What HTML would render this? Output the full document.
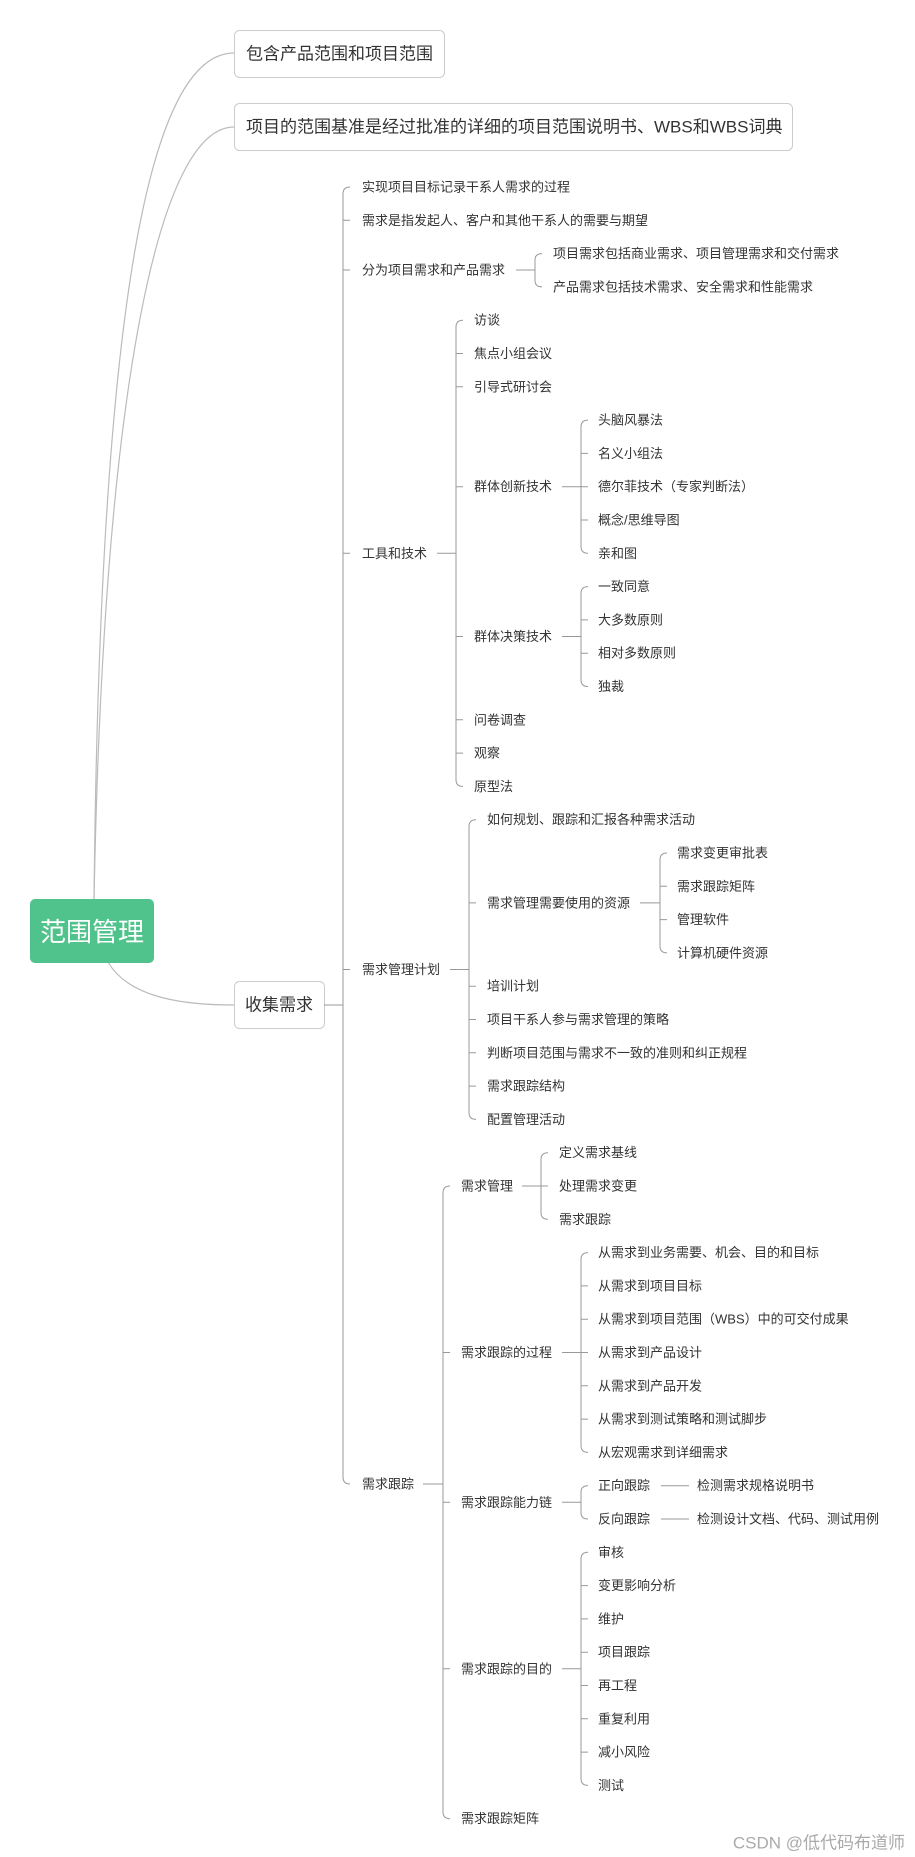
<!DOCTYPE html>
<html><head><meta charset="utf-8"><style>
html,body{margin:0;padding:0;background:#fff;}
svg{display:block;}
text{font-family:"Liberation Sans","Noto Sans CJK SC",sans-serif;fill:#333;font-size:13px;dominant-baseline:central;}
.l{fill:none;stroke:#999;stroke-width:1;}
.c{fill:none;stroke:#bbb;stroke-width:1.2;}
.b{font-size:17px;fill:#333;}
</style></head><body>
<svg width="915" height="1857" viewBox="0 0 915 1857" xmlns="http://www.w3.org/2000/svg">
<!-- root curves -->
<path class="c" d="M94 900 C100 300,150 53,234 53"/>
<path class="c" d="M94 900 C104 380,160 127,234 127"/>
<path class="c" d="M108 962 C130 1000,190 1005,234 1005"/>
<!-- boxes -->
<rect x="234.5" y="30.5" width="210" height="47" rx="5" fill="#fff" stroke="#ccc"/>
<text class="b" x="246" y="54">包含产品范围和项目范围</text>
<rect x="234.5" y="103.5" width="558" height="47" rx="5" fill="#fff" stroke="#ccc"/>
<text class="b" x="246" y="127">项目的范围基准是经过批准的详细的项目范围说明书、WBS和WBS词典</text>
<rect x="30" y="899" width="124" height="64" rx="5" fill="#4fc38b"/>
<text x="92" y="932" style="font-size:26px;fill:#fff;text-anchor:middle">范围管理</text>
<rect x="234.5" y="981.5" width="90" height="47" rx="5" fill="#fff" stroke="#ccc"/>
<text class="b" x="245" y="1005">收集需求</text>

<!-- G1 -->
<path class="l" d="M324 1005 L343 1005"/>
<path class="l" d="M350 187 Q343 187 343 194 L343 1477 Q343 1484 350 1484 M343 220.3 L350 220.3 M343 270 L350 270 M343 553.3 L350 553.3 M343 969.5 L350 969.5"/>
<text x="362" y="187">实现项目目标记录干系人需求的过程</text>
<text x="362" y="220.3">需求是指发起人、客户和其他干系人的需要与期望</text>
<text x="362" y="270">分为项目需求和产品需求</text>
<text x="362" y="553.3">工具和技术</text>
<text x="362" y="969.5">需求管理计划</text>
<text x="362" y="1484">需求跟踪</text>

<!-- G2 -->
<path class="l" d="M516 270 L535 270 M542 253.6 Q535 253.6 535 260 L535 280.5 Q535 286.9 542 286.9"/>
<text x="553" y="253.6">项目需求包括商业需求、项目管理需求和交付需求</text>
<text x="553" y="286.9">产品需求包括技术需求、安全需求和性能需求</text>

<!-- G3 -->
<path class="l" d="M437 553.3 L456 553.3 M463 320.2 Q456 320.2 456 327 L456 779.6 Q456 786.4 463 786.4 M456 353.5 L463 353.5 M456 386.8 L463 386.8 M456 486.7 L463 486.7 M456 636.5 L463 636.5 M456 719.8 L463 719.8 M456 753.1 L463 753.1"/>
<text x="474" y="320.2">访谈</text>
<text x="474" y="353.5">焦点小组会议</text>
<text x="474" y="386.8">引导式研讨会</text>
<text x="474" y="486.7">群体创新技术</text>
<text x="474" y="636.5">群体决策技术</text>
<text x="474" y="719.8">问卷调查</text>
<text x="474" y="753.1">观察</text>
<text x="474" y="786.4">原型法</text>

<!-- G4 -->
<path class="l" d="M562 486.7 L581 486.7 M588 420.1 Q581 420.1 581 427 L581 546.5 Q581 553.3 588 553.3 M581 453.4 L588 453.4 M581 486.7 L588 486.7 M581 520 L588 520"/>
<text x="598" y="420.1">头脑风暴法</text>
<text x="598" y="453.4">名义小组法</text>
<text x="598" y="486.7">德尔菲技术（专家判断法）</text>
<text x="598" y="520">概念/思维导图</text>
<text x="598" y="553.3">亲和图</text>

<!-- G5 -->
<path class="l" d="M562 636.5 L581 636.5 M588 586.6 Q581 586.6 581 593.5 L581 679.6 Q581 686.5 588 686.5 M581 619.9 L588 619.9 M581 653.2 L588 653.2"/>
<text x="598" y="586.6">一致同意</text>
<text x="598" y="619.9">大多数原则</text>
<text x="598" y="653.2">相对多数原则</text>
<text x="598" y="686.5">独裁</text>

<!-- G6 -->
<path class="l" d="M450 969.5 L469 969.5 M476 819.7 Q469 819.7 469 826.5 L469 1112.5 Q469 1119.4 476 1119.4 M469 902.9 L476 902.9 M469 986.2 L476 986.2 M469 1019.5 L476 1019.5 M469 1052.8 L476 1052.8 M469 1086.1 L476 1086.1"/>
<text x="487" y="819.7">如何规划、跟踪和汇报各种需求活动</text>
<text x="487" y="902.9">需求管理需要使用的资源</text>
<text x="487" y="986.2">培训计划</text>
<text x="487" y="1019.5">项目干系人参与需求管理的策略</text>
<text x="487" y="1052.8">判断项目范围与需求不一致的准则和纠正规程</text>
<text x="487" y="1086.1">需求跟踪结构</text>
<text x="487" y="1119.4">配置管理活动</text>

<!-- G7 -->
<path class="l" d="M640 902.9 L660 902.9 M667 853 Q660 853 660 860 L660 946 Q660 952.9 667 952.9 M660 886.3 L667 886.3 M660 919.6 L667 919.6"/>
<text x="677" y="853">需求变更审批表</text>
<text x="677" y="886.3">需求跟踪矩阵</text>
<text x="677" y="919.6">管理软件</text>
<text x="677" y="952.9">计算机硬件资源</text>

<!-- G8 -->
<path class="l" d="M423 1484 L443 1484 M450 1186 Q443 1186 443 1193 L443 1812 Q443 1818.7 450 1818.7 M443 1352.5 L450 1352.5 M443 1502.3 L450 1502.3 M443 1668.8 L450 1668.8"/>
<text x="461" y="1186">需求管理</text>
<text x="461" y="1352.5">需求跟踪的过程</text>
<text x="461" y="1502.3">需求跟踪能力链</text>
<text x="461" y="1668.8">需求跟踪的目的</text>
<text x="461" y="1818.7">需求跟踪矩阵</text>

<!-- G9 -->
<path class="l" d="M522 1186 L541 1186 M548 1152.7 Q541 1152.7 541 1159.5 L541 1212.5 Q541 1219.3 548 1219.3 M541 1186 L548 1186"/>
<text x="559" y="1152.7">定义需求基线</text>
<text x="559" y="1186">处理需求变更</text>
<text x="559" y="1219.3">需求跟踪</text>

<!-- G10 -->
<path class="l" d="M562 1352.5 L581 1352.5 M588 1252.6 Q581 1252.6 581 1259.5 L581 1445.5 Q581 1452.4 588 1452.4 M581 1285.9 L588 1285.9 M581 1319.2 L588 1319.2 M581 1352.5 L588 1352.5 M581 1385.8 L588 1385.8 M581 1419.1 L588 1419.1"/>
<text x="598" y="1252.6">从需求到业务需要、机会、目的和目标</text>
<text x="598" y="1285.9">从需求到项目目标</text>
<text x="598" y="1319.2">从需求到项目范围（WBS）中的可交付成果</text>
<text x="598" y="1352.5">从需求到产品设计</text>
<text x="598" y="1385.8">从需求到产品开发</text>
<text x="598" y="1419.1">从需求到测试策略和测试脚步</text>
<text x="598" y="1452.4">从宏观需求到详细需求</text>

<!-- G11 -->
<path class="l" d="M562 1502.3 L581 1502.3 M588 1485.7 Q581 1485.7 581 1492 L581 1512.5 Q581 1519 588 1519 M661 1485.7 L689 1485.7 M661 1519 L689 1519"/>
<text x="598" y="1485.7">正向跟踪</text>
<text x="598" y="1519">反向跟踪</text>
<text x="697" y="1485.7">检测需求规格说明书</text>
<text x="697" y="1519">检测设计文档、代码、测试用例</text>

<!-- G12 -->
<path class="l" d="M562 1668.8 L581 1668.8 M588 1552.3 Q581 1552.3 581 1559 L581 1778.5 Q581 1785.4 588 1785.4 M581 1585.6 L588 1585.6 M581 1618.9 L588 1618.9 M581 1652.2 L588 1652.2 M581 1685.5 L588 1685.5 M581 1718.8 L588 1718.8 M581 1752.1 L588 1752.1"/>
<text x="598" y="1552.3">审核</text>
<text x="598" y="1585.6">变更影响分析</text>
<text x="598" y="1618.9">维护</text>
<text x="598" y="1652.2">项目跟踪</text>
<text x="598" y="1685.5">再工程</text>
<text x="598" y="1718.8">重复利用</text>
<text x="598" y="1752.1">减小风险</text>
<text x="598" y="1785.4">测试</text>

<text x="905" y="1843" style="font-size:17px;fill:#aaa;text-anchor:end">CSDN @低代码布道师</text>
</svg>
</body></html>
